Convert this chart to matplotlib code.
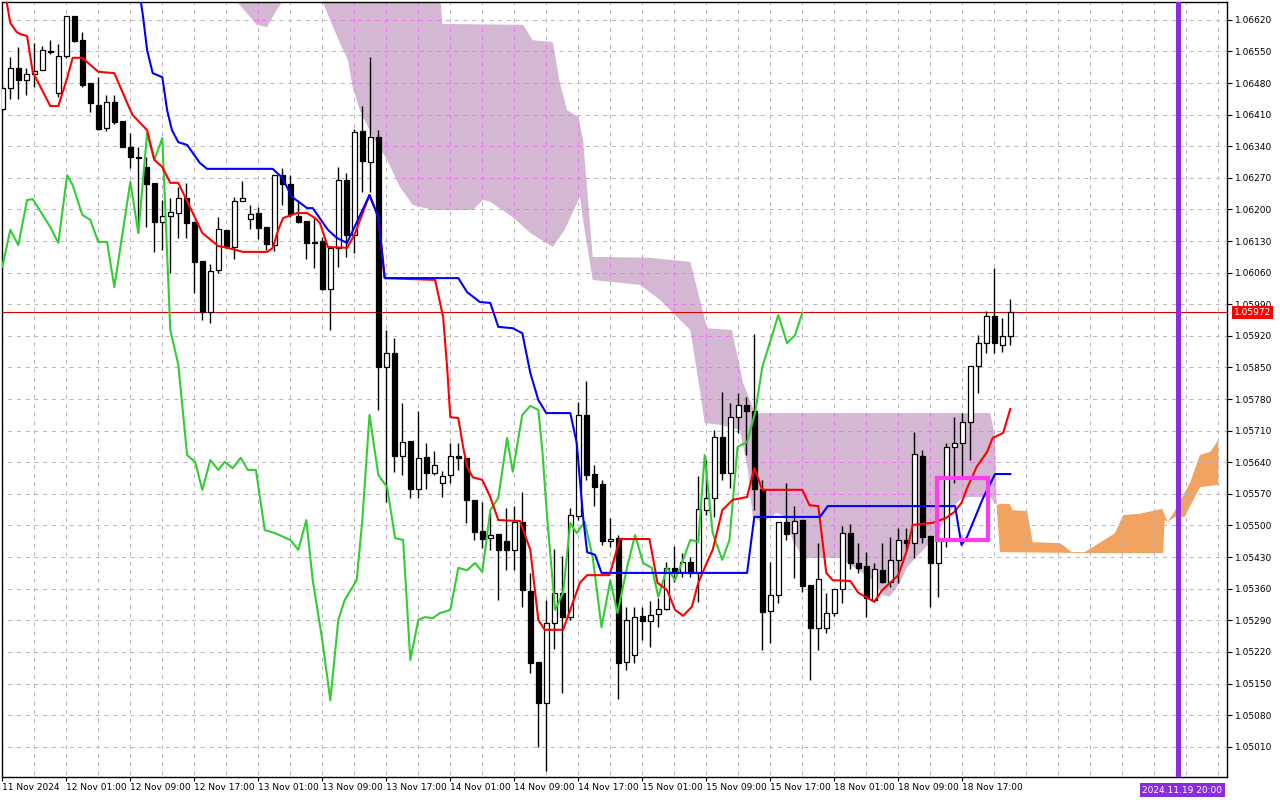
import matplotlib
matplotlib.use("Agg")
import matplotlib.pyplot as plt
from matplotlib import font_manager
from matplotlib.collections import LineCollection
from matplotlib.patches import Polygon, Rectangle
import matplotlib.transforms as mtransforms
import numpy as np

# ---- EURUSD H1, 11 Nov 17:00 .. 18 Nov 23:00 (bar index 0..126) ----
opens = [1.06423, 1.06469, 1.06513, 1.06487, 1.06500, 1.06509, 1.06551, 1.06458, 1.06540, 1.06629,
         1.06575, 1.06480, 1.06431, 1.06380, 1.06438, 1.06396, 1.06338, 1.06316, 1.06294, 1.06259,
         1.06172, 1.06186, 1.06192, 1.06225, 1.06172, 1.06086, 1.05973, 1.06066, 1.06155, 1.06117,
         1.06219, 1.06179, 1.06192, 1.06161, 1.06121, 1.06276, 1.06256, 1.06186, 1.06174, 1.06126,
         1.06130, 1.06024, 1.06115, 1.06265, 1.06143, 1.06374, 1.06305, 1.06361, 1.05851, 1.05882,
         1.05654, 1.05687, 1.05581, 1.05652, 1.05616, 1.05594, 1.05612, 1.05654, 1.05650, 1.05557,
         1.05488, 1.05472, 1.05481, 1.05466, 1.05446, 1.05508, 1.05355, 1.05198, 1.05107, 1.05284,
         1.05351, 1.05297, 1.05521, 1.05745, 1.05614, 1.05592, 1.05466, 1.05472, 1.05198, 1.05213,
         1.05300, 1.05289, 1.05304, 1.05315, 1.05406, 1.05397, 1.05419, 1.05395, 1.05534, 1.05561,
         1.05696, 1.05616, 1.05740, 1.05767, 1.05754, 1.05581, 1.05311, 1.05346, 1.05508, 1.05483,
         1.05512, 1.05368, 1.05273, 1.05273, 1.05306, 1.05359, 1.05483, 1.05417, 1.05410, 1.05335,
         1.05401, 1.05375, 1.05424, 1.05468, 1.05461, 1.05654, 1.05477, 1.05417, 1.05468, 1.05674,
         1.05683, 1.05729, 1.05853, 1.05904, 1.05964, 1.05900, 1.05920]
highs = [1.06476, 1.06538, 1.06560, 1.06513, 1.06569, 1.06562, 1.06575, 1.06567, 1.06629, 1.06629,
         1.06593, 1.06480, 1.06493, 1.06454, 1.06454, 1.06396, 1.06369, 1.06338, 1.06316, 1.06259,
         1.06221, 1.06225, 1.06250, 1.06259, 1.06172, 1.06086, 1.06079, 1.06183, 1.06155, 1.06228,
         1.06263, 1.06210, 1.06206, 1.06161, 1.06276, 1.06292, 1.06276, 1.06221, 1.06174, 1.06181,
         1.06139, 1.06115, 1.06294, 1.06281, 1.06378, 1.06429, 1.06538, 1.06376, 1.05933, 1.05915,
         1.05771, 1.05687, 1.05754, 1.05683, 1.05665, 1.05621, 1.05683, 1.05683, 1.05650, 1.05557,
         1.05552, 1.05530, 1.05481, 1.05539, 1.05543, 1.05574, 1.05395, 1.05198, 1.05335, 1.05448,
         1.05432, 1.05539, 1.05774, 1.05820, 1.05634, 1.05601, 1.05517, 1.05479, 1.05319, 1.05319,
         1.05319, 1.05333, 1.05339, 1.05419, 1.05455, 1.05439, 1.05430, 1.05610, 1.05645, 1.05712,
         1.05796, 1.05771, 1.05794, 1.05785, 1.05924, 1.05601, 1.05419, 1.05508, 1.05594, 1.05543,
         1.05512, 1.05368, 1.05461, 1.05351, 1.05359, 1.05499, 1.05503, 1.05461, 1.05441, 1.05417,
         1.05461, 1.05475, 1.05495, 1.05495, 1.05707, 1.05667, 1.05477, 1.05506, 1.05683, 1.05740,
         1.05749, 1.05853, 1.05922, 1.05975, 1.06070, 1.05960, 1.06002]
lows = [1.06416, 1.06445, 1.06445, 1.06454, 1.06471, 1.06509, 1.06544, 1.06449, 1.06536, 1.06571,
        1.06471, 1.06416, 1.06376, 1.06374, 1.06389, 1.06338, 1.06292, 1.06148, 1.06161, 1.06106,
        1.06110, 1.06059, 1.06137, 1.06137, 1.06015, 1.05955, 1.05949, 1.06059, 1.06115, 1.06090,
        1.06219, 1.06157, 1.06135, 1.06110, 1.06108, 1.06210, 1.06183, 1.06170, 1.06090, 1.06070,
        1.06022, 1.05933, 1.06073, 1.06095, 1.06104, 1.06239, 1.06239, 1.05756, 1.05552, 1.05619,
        1.05612, 1.05561, 1.05561, 1.05581, 1.05612, 1.05563, 1.05594, 1.05623, 1.05506, 1.05468,
        1.05450, 1.05446, 1.05335, 1.05401, 1.05401, 1.05319, 1.05173, 1.05009, 1.04956, 1.05226,
        1.05129, 1.05291, 1.05512, 1.05601, 1.05543, 1.05457, 1.05452, 1.05116, 1.05180, 1.05195,
        1.05246, 1.05231, 1.05275, 1.05313, 1.05375, 1.05386, 1.05386, 1.05331, 1.05523, 1.05519,
        1.05601, 1.05583, 1.05705, 1.05656, 1.05534, 1.05224, 1.05240, 1.05328, 1.05468, 1.05384,
        1.05353, 1.05158, 1.05224, 1.05262, 1.05300, 1.05328, 1.05404, 1.05395, 1.05297, 1.05331,
        1.05373, 1.05364, 1.05373, 1.05446, 1.05428, 1.05461, 1.05319, 1.05342, 1.05452, 1.05594,
        1.05607, 1.05645, 1.05794, 1.05882, 1.05882, 1.05884, 1.05900]
closes = [1.06469, 1.06513, 1.06487, 1.06500, 1.06507, 1.06553, 1.06549, 1.06540, 1.06629, 1.06573,
          1.06476, 1.06436, 1.06378, 1.06438, 1.06394, 1.06338, 1.06316, 1.06314, 1.06256, 1.06172,
          1.06186, 1.06194, 1.06225, 1.06170, 1.06084, 1.05973, 1.06064, 1.06157, 1.06119, 1.06219,
          1.06225, 1.06190, 1.06159, 1.06124, 1.06276, 1.06256, 1.06190, 1.06172, 1.06126, 1.06128,
          1.06024, 1.06115, 1.06265, 1.06143, 1.06372, 1.06307, 1.06361, 1.05851, 1.05882, 1.05654,
          1.05685, 1.05581, 1.05650, 1.05616, 1.05634, 1.05610, 1.05654, 1.05650, 1.05557, 1.05486,
          1.05470, 1.05479, 1.05446, 1.05446, 1.05508, 1.05357, 1.05195, 1.05107, 1.05284, 1.05351,
          1.05297, 1.05523, 1.05745, 1.05612, 1.05585, 1.05466, 1.05470, 1.05195, 1.05291, 1.05297,
          1.05289, 1.05302, 1.05315, 1.05406, 1.05397, 1.05419, 1.05395, 1.05537, 1.05561, 1.05696,
          1.05616, 1.05740, 1.05767, 1.05754, 1.05581, 1.05308, 1.05346, 1.05508, 1.05481, 1.05510,
          1.05366, 1.05273, 1.05381, 1.05306, 1.05359, 1.05483, 1.05417, 1.05406, 1.05339, 1.05404,
          1.05375, 1.05424, 1.05468, 1.05461, 1.05658, 1.05475, 1.05417, 1.05468, 1.05674, 1.05683,
          1.05729, 1.05853, 1.05904, 1.05964, 1.05904, 1.05920, 1.05972]

# Ichimoku lines, read as (bar index, price) vertices
tenkan_x = [0.5, 1.0, 1.8, 2.2, 3.1, 3.8, 6.0, 7.0, 8.1, 8.8, 10.0, 12.0, 14.0, 16.0, 16.3, 18.1, 19.0, 20.0,
            21.0, 22.0, 25.0, 27.0, 28.2, 30.1, 33.1, 33.8, 34.5, 35.1, 36.8, 38.1, 39.1, 39.7, 40.7, 43.1,
            44.0, 45.9, 47.0, 47.8, 54.1, 55.1, 55.6, 56.0, 57.0, 57.6, 58.1, 58.8, 60.0, 61.0, 62.0, 64.7,
            66.0, 67.0, 67.8, 70.1, 72.2, 73.1, 75.9, 77.2, 80.9, 81.9, 83.1, 84.1, 85.1, 86.2, 87.0, 88.1,
            88.8, 90.0, 91.3, 93.1, 94.0, 95.0, 100.0, 100.9, 102.0, 103.0, 103.8, 106.0, 107.0, 109.0,
            110.0, 112.0, 113.1, 113.8, 116.3, 118.0, 119.0, 119.9, 120.6, 121.8, 123.1, 123.8, 125.1, 126.0]
tenkan = [1.06664, 1.06613, 1.06593, 1.06589, 1.06584, 1.06505, 1.06429, 1.06429, 1.06491, 1.06536,
          1.06536, 1.06505, 1.06502, 1.06420, 1.06409, 1.06376, 1.06310, 1.06294, 1.06259, 1.06259,
          1.06148, 1.06119, 1.06115, 1.06106, 1.06106, 1.06115, 1.06155, 1.06181, 1.06192, 1.06192,
          1.06181, 1.06170, 1.06117, 1.06115, 1.06143, 1.06232, 1.06183, 1.06048, 1.06044, 1.05962,
          1.05851, 1.05740, 1.05738, 1.05674, 1.05630, 1.05607, 1.05601, 1.05563, 1.05512, 1.05510,
          1.05446, 1.05291, 1.05269, 1.05269, 1.05373, 1.05390, 1.05390, 1.05470, 1.05470, 1.05373,
          1.05357, 1.05313, 1.05300, 1.05320, 1.05373, 1.05419, 1.05446, 1.05534, 1.05557, 1.05563,
          1.05627, 1.05579, 1.05579, 1.05545, 1.05543, 1.05395, 1.05379, 1.05377, 1.05351, 1.05331,
          1.05357, 1.05390, 1.05446, 1.05501, 1.05506, 1.05517, 1.05530, 1.05550, 1.05583, 1.05630,
          1.05663, 1.05694, 1.05705, 1.05758]

kijun_x = [17.2, 17.6, 18.1, 18.8, 20.0, 20.6, 21.2, 22.0, 23.1, 24.7, 25.6, 33.8, 35.0, 36.2, 38.1, 38.8,
           40.7, 41.8, 43.1, 45.9, 47.0, 47.8, 57.0, 58.1, 59.7, 61.0, 62.0, 63.8, 65.0, 66.0, 67.0, 68.0,
           71.0, 71.8, 72.6, 73.1, 74.1, 74.9, 93.1, 94.0, 102.2, 103.2, 119.1, 119.9, 120.6, 122.6, 124.1, 126.0]
kijun = [1.06675, 1.06626, 1.06553, 1.06502, 1.06493, 1.06420, 1.06376, 1.06349, 1.06343, 1.06303,
         1.06290, 1.06290, 1.06270, 1.06228, 1.06203, 1.06203, 1.06155, 1.06137, 1.06126, 1.06232,
         1.06183, 1.06048, 1.06048, 1.06017, 1.05995, 1.05993, 1.05940, 1.05937, 1.05926, 1.05838,
         1.05778, 1.05749, 1.05749, 1.05683, 1.05519, 1.05441, 1.05435, 1.05395, 1.05395, 1.05519,
         1.05519, 1.05543, 1.05543, 1.05457, 1.05475, 1.05561, 1.05614, 1.05614]

chikou_x = [0.0, 1.0, 2.0, 3.1, 3.8, 6.0, 7.0, 8.1, 8.8, 10.0, 11.0, 12.0, 13.1, 14.0, 16.0, 17.0, 18.1, 19.0,
            20.0, 21.0, 22.0, 23.1, 24.1, 25.0, 26.0, 27.0, 27.8, 28.8, 29.8, 30.7, 31.7, 32.8, 34.1, 36.0,
            37.0, 38.0, 38.8, 40.0, 41.0, 42.0, 42.8, 44.3, 45.0, 45.9, 47.0, 48.1, 49.1, 50.1, 51.0, 52.0,
            52.8, 53.8, 54.7, 56.0, 57.0, 58.1, 59.1, 60.0, 61.0, 62.0, 63.1, 63.8, 65.0, 66.0, 67.0, 67.5,
            68.1, 69.1, 70.1, 71.0, 71.8, 72.8, 73.8, 74.9, 76.0, 76.9, 78.1, 79.1, 80.1, 81.2, 82.0, 83.1,
            84.1, 85.1, 86.0, 87.0, 87.8, 88.8, 90.0, 90.9, 91.9, 93.1, 94.1, 95.0, 97.0, 98.1, 99.1, 100.0]
chikou = [1.06073, 1.06155, 1.06121, 1.06221, 1.06223, 1.06161, 1.06126, 1.06276, 1.06254, 1.06188,
          1.06177, 1.06128, 1.06128, 1.06028, 1.06261, 1.06148, 1.06369, 1.06310, 1.06358, 1.05933,
          1.05856, 1.05656, 1.05641, 1.05579, 1.05645, 1.05623, 1.05641, 1.05627, 1.05650, 1.05623,
          1.05623, 1.05490, 1.05483, 1.05468, 1.05446, 1.05512, 1.05379, 1.05246, 1.05113, 1.05291,
          1.05335, 1.05379, 1.05512, 1.05745, 1.05612, 1.05585, 1.05472, 1.05468, 1.05202, 1.05291,
          1.05297, 1.05295, 1.05306, 1.05313, 1.05406, 1.05401, 1.05417, 1.05397, 1.05534, 1.05561,
          1.05694, 1.05619, 1.05745, 1.05765, 1.05756, 1.05667, 1.05519, 1.05313, 1.05351, 1.05506,
          1.05483, 1.05508, 1.05430, 1.05275, 1.05379, 1.05306, 1.05408, 1.05479, 1.05417, 1.05406,
          1.05342, 1.05406, 1.05379, 1.05424, 1.05468, 1.05464, 1.05656, 1.05483, 1.05424, 1.05468,
          1.05674, 1.05685, 1.05749, 1.05851, 1.05966, 1.05904, 1.05922, 1.05971]

# Kumo: bearish part (span B over span A) and bullish part (span A over span B)
bear_top_x = [29.0, 54.7, 55.0, 65.1, 66.3, 68.8, 69.7, 70.6, 72.0, 72.6, 73.8, 81.0, 86.0, 88.1, 91.2,
              92.6, 94.1, 123.5, 124.1, 124.3]
bear_top = [1.06708, 1.06686, 1.06611, 1.06609, 1.06575, 1.06571, 1.06480, 1.06420, 1.06405, 1.06354,
            1.06095, 1.06093, 1.06084, 1.05937, 1.05933, 1.05816, 1.05749, 1.05749, 1.05696, 1.05545]
bear_bot_x = [29.0, 29.5, 31.8, 33.1, 34.3, 35.6, 39.7, 40.1, 42.2, 43.2, 43.8, 44.7, 46.3, 48.1, 49.7,
              51.3, 53.8, 58.8, 60.1, 61.0, 63.8, 66.0, 68.8, 70.3, 72.2, 72.6, 73.8, 79.7, 82.2, 86.0,
              87.2, 87.8, 89.7, 92.2, 93.2, 93.8, 95.0, 96.8, 97.8, 98.8, 100.1, 104.7, 107.0, 108.8,
              110.1, 110.9, 112.2, 113.1, 116.3, 118.8, 120.1, 123.5, 124.3]
bear_bot = [1.06708, 1.06657, 1.06609, 1.06604, 1.06642, 1.06675, 1.06675, 1.06657, 1.06569, 1.06531,
            1.06471, 1.06420, 1.06361, 1.06310, 1.06250, 1.06210, 1.06199, 1.06199, 1.06221, 1.06217,
            1.06183, 1.06148, 1.06117, 1.06155, 1.06228, 1.06177, 1.06044, 1.06033, 1.06000, 1.05933,
            1.05800, 1.05727, 1.05723, 1.05712, 1.05623, 1.05519, 1.05506, 1.05528, 1.05519, 1.05468,
            1.05428, 1.05428, 1.05401, 1.05379, 1.05346, 1.05342, 1.05373, 1.05408, 1.05468, 1.05541,
            1.05563, 1.05563, 1.05545]
bull_top_x = [124.3, 124.7, 125.9, 126.3, 128.1, 128.8, 132.2, 133.7, 135.3, 139.1, 140.1, 142.2, 145.0,
              145.3, 145.7, 146.6, 147.5, 148.5, 149.7, 151.0, 152.0]
bull_top = [1.05545, 1.05548, 1.05548, 1.05534, 1.05532, 1.05463, 1.05461, 1.05441, 1.05441, 1.05483,
            1.05523, 1.05526, 1.05537, 1.05523, 1.05508, 1.05534, 1.05563, 1.05596, 1.05656, 1.05663, 1.05689]
bull_bot_x = [124.3, 124.7, 135.1, 145.1, 145.3, 145.7, 146.6, 147.8, 149.7, 152.0]
bull_bot = [1.05545, 1.05441, 1.05439, 1.05439, 1.05512, 1.05508, 1.05519, 1.05519, 1.05585, 1.05590]

# labels / markers
x_tick_bars = [0, 8, 16, 24, 32, 40, 48, 56, 64, 72, 80, 88, 96, 104, 112, 120]
x_tick_labels = ["11 Nov 2024", "12 Nov 01:00", "12 Nov 09:00", "12 Nov 17:00", "13 Nov 01:00",
                 "13 Nov 09:00", "13 Nov 17:00", "14 Nov 01:00", "14 Nov 09:00", "14 Nov 17:00",
                 "15 Nov 01:00", "15 Nov 09:00", "15 Nov 17:00", "18 Nov 01:00", "18 Nov 09:00",
                 "18 Nov 17:00"]
y_ticks = [round(1.0501 + 0.0007 * k, 5) for k in range(24)]
last_price = 1.05972
vline_bar = 147
vline_label = "2024.11.19 20:00"
box_bars = [116.8, 123.2]
box_prices = [1.05468, 1.05605]

# ---- font ----
avail = {f.name for f in font_manager.fontManager.ttflist}
if "Liberation Sans Narrow" in avail:
    plt.rcParams["font.family"] = ["Liberation Sans Narrow", "DejaVu Sans"]
    fsize = 8
else:
    plt.rcParams["font.family"] = ["DejaVu Sans"]
    fsize = 6.5

fig = plt.figure(figsize=(12.8, 8), dpi=100)
ax = fig.add_axes([2 / 1280, 23 / 800, 1225 / 1280, 775 / 800])
ax.set_xlim(-0.04, 153.09)
ax.set_ylim(1.049429, 1.066596)

# cloud
bear_poly = Polygon(list(zip(bear_top_x, bear_top)) + list(zip(bear_bot_x, bear_bot))[::-1],
                    closed=True, facecolor="#d3b7d3", edgecolor="none", zorder=1)
bull_poly = Polygon(list(zip(bull_top_x, bull_top)) + list(zip(bull_bot_x, bull_bot))[::-1],
                    closed=True, facecolor="#f2a35f", edgecolor="none", zorder=1)
ax.add_patch(bear_poly)
ax.add_patch(bull_poly)

# grid (dashed), magenta where it runs through the bearish cloud
grid_segs = [[(b, 1.04), (b, 1.07)] for b in range(0, 153, 4)]
grid_segs += [[(-1, p), (160, p)] for p in y_ticks]
ax.add_collection(LineCollection(grid_segs, colors="#bcb2bc", linewidths=0.7,
                                 linestyles=(0, (4, 5)), zorder=1.5))
mag = LineCollection(grid_segs, colors="#f070f0", linewidths=0.7, linestyles=(0, (4, 5)), zorder=1.6)
ax.add_collection(mag)
mag.set_clip_path(bear_poly)

# current price line
ax.axhline(last_price, color="#e00000", lw=0.8, zorder=2)

# candles
idx = np.arange(len(opens))
o = np.array(opens)
c = np.array(closes)
bull = c >= o
ax.vlines(idx, lows, highs, color="black", lw=1.0, zorder=3)
ax.bar(idx, np.abs(c - o) + 0.000008, bottom=np.minimum(o, c) - 0.000004, width=0.6,
       color=np.where(bull, "white", "black"), edgecolor="black", linewidth=0.9, zorder=4)

# ichimoku lines
ax.plot(chikou_x, chikou, color="#32cd32", lw=1.5, zorder=5)
ax.plot(tenkan_x, tenkan, color="#ff0000", lw=1.5, zorder=5)
ax.plot(kijun_x, kijun, color="#0000ff", lw=1.5, zorder=6)

# highlighted box
ax.add_patch(Rectangle((box_bars[0], box_prices[0]), box_bars[1] - box_bars[0],
                       box_prices[1] - box_prices[0], fill=False, edgecolor="#ff3cf0",
                       linewidth=3, zorder=8))

# vertical marker line
ax.axvline(vline_bar, color="#8a2be2", lw=3.6, zorder=7)

# axes style
for s in ax.spines.values():
    s.set_color("black")
    s.set_linewidth(1)
ax.yaxis.tick_right()
ax.set_yticks(y_ticks)
ax.set_yticklabels(["%.5f" % v for v in y_ticks])
ax.tick_params(axis="y", direction="out", length=3.5, width=0.8, pad=2, labelsize=fsize)
ax.set_xticks(x_tick_bars)
ax.set_xticklabels(x_tick_labels)
for lab in ax.get_xticklabels():
    lab.set_horizontalalignment("left")
ax.tick_params(axis="x", direction="out", length=3, width=0.8, pad=1.5, labelsize=fsize)

trans = mtransforms.blended_transform_factory(ax.transAxes, ax.transData)
ax.text(1.0055, last_price, "%.5f" % last_price, transform=trans, color="white", fontsize=fsize,
        ha="left", va="center", zorder=10, clip_on=False,
        bbox=dict(boxstyle="square,pad=0.2", facecolor="#ff0000", edgecolor="none"))
trans2 = mtransforms.blended_transform_factory(ax.transData, ax.transAxes)
ax.text(vline_bar + 0.5, -0.017, vline_label, transform=trans2, color="white", fontsize=fsize,
        ha="center", va="center", clip_on=False,
        bbox=dict(boxstyle="square,pad=0.25", facecolor="#8a2be2", edgecolor="none"))

fig.savefig("out.png", dpi=100)
